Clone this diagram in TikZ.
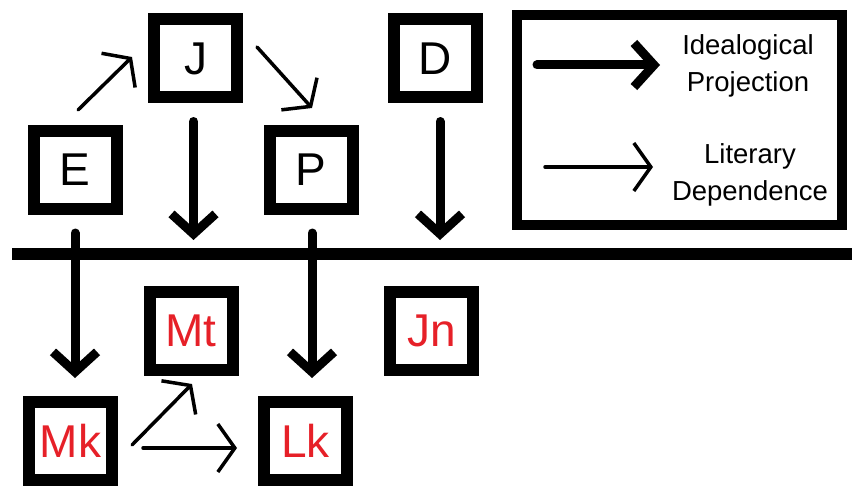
\documentclass[tikz,border=0pt]{standalone}
\usepackage{fontspec}
\setmainfont{Liberation Sans}
\usetikzlibrary{arrows.meta,calc}
\definecolor{txtred}{RGB}{230,32,40}
\tikzset{
 box/.style={draw, line width=12pt, minimum width=83pt, minimum height=78pt, inner sep=0pt, font=\fontsize{46}{46}\selectfont},
 redtext/.style={text=txtred},
 proj/.style={line width=9pt, line cap=round, -{Straight Barb[length=20pt,width=44pt]}},
 dep/.style={line width=3.5pt, line cap=round, -{Straight Barb[length=17pt,width=48pt]}},
 divider/.style={line width=12pt},
 legendbox/.style={draw, line width=10pt, minimum width=325pt, minimum height=210pt, inner sep=0pt},
 legtext/.style={font=\fontsize{27.5}{37}\selectfont, align=center},
}
\begin{document}
\begin{tikzpicture}[x=1pt,y=-1pt]
\useasboundingbox (0,0) rectangle (852,487);
% upper nodes
\node[box] (E) at (75,170) {E};
\node[box] (J) at (195.5,58.5) {J};
\node[box] (P) at (311,170) {P};
\node[box] (D) at (435.5,58.5) {D};
% lower nodes
\node[box,redtext] (Mt) at (191,331) {Mt};
\node[box,redtext] (Jn) at (431.5,331) {Jn};
\node[box,redtext] (Mk) at (70.5,441) {Mk};
\node[box,redtext] (Lk) at (305.5,441) {Lk};
% divider
\coordinate (divL) at (12,254);
\coordinate (divR) at (852,254);
\draw[divider] (divL) -- (divR);
% ideological projections
\draw[proj] ($(E.south)+(0,18)$) -- ($(E.south |- Mk.north)+(0,-18)$);
\draw[proj] ($(J.south)+(-2,18)$) -- ($(J.south |- divL)+(-2,-14)$);
\draw[proj] ($(D.south)+(4.5,18)$) -- ($(D.south |- divL)+(4.5,-14)$);
\draw[proj] ($(P.south)+(1,18)$) -- ($(P.south |- Lk.north)+(1,-18)$);
% literary dependence
\draw[dep] ($(E.north)+(3,-15)$) -- ($(J.west)+(-16,-1.5)$);
\draw[dep] ($(J.east)+(14,-11.5)$) -- ($(P.north)+(1,-17)$);
\draw[dep] ($(Mk.east)+(14,4)$) -- ($(Mt.south)+(1,8)$);
\draw[dep] ($(Mk.east)+(25,7)$) -- ($(Lk.west)+(-21,7)$);
% legend
\node[legendbox] (leg) at (679.5,120) {};
\coordinate (lp1) at (537,65);
\coordinate (lp2) at (660,65);
\coordinate (ld1) at (545,167);
\coordinate (ld2) at (653,167);
\draw[proj] (lp1) -- (lp2);
\draw[dep] (ld1) -- (ld2);
\node[legtext] (projtxt) at (748,66) {Idealogical\\Projection};
\node[legtext] (deptxt) at (750,175) {Literary\\Dependence};
\end{tikzpicture}
\end{document}
